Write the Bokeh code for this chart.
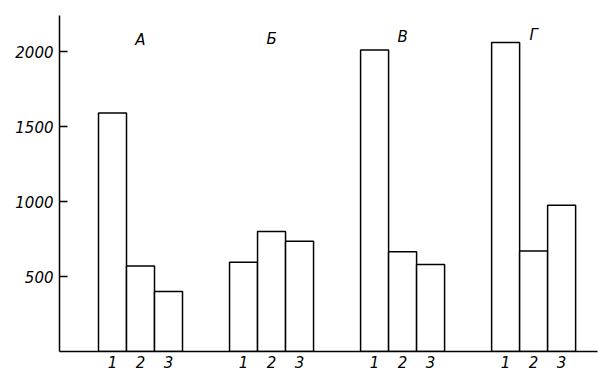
from bokeh.plotting import figure
from bokeh.models import Range1d, FixedTicker, CustomJSTickFormatter, ColumnDataSource
from bokeh.core.properties import value
from bokeh.embed import file_html
from bokeh.resources import INLINE

groups = ["А", "Б", "В", "Г"]
bar_labels = ["1", "2", "3"]
series1 = [1590, 595, 2010, 2060]
series2 = [570, 800, 665, 670]
series3 = [400, 735, 580, 975]
y_ticks = [500, 1000, 1500, 2000]

FONT = "DejaVu Sans"
step = 4.68
bar_w = 1.0

xs, tops = [], []
for g in range(len(groups)):
    for k, s in enumerate([series1, series2, series3]):
        xs.append(g * step + (k - 1) * bar_w)
        tops.append(s[g])

p = figure(width=599, height=374, frame_width=538, frame_height=336,
           min_border_left=59, min_border_right=2, min_border_top=15, min_border_bottom=23,
           x_range=Range1d(-2.893, -2.893 + 538 / 28.0), y_range=Range1d(0, 2240),
           output_backend="svg", toolbar_location=None)
p.outline_line_color = None
p.xgrid.visible = False
p.ygrid.visible = False
p.background_fill_color = "white"
p.border_fill_color = "white"

src = ColumnDataSource(dict(x=xs, top=tops))
p.vbar(x="x", top="top", bottom=0, width=bar_w, source=src,
       fill_color="white", line_color="black", line_width=1.5)

gx = [g * step for g in range(len(groups))]
gy = [2075, 2085, 2095, 2110]
p.text(x=gx, y=gy, text=groups, text_font=value(FONT), text_font_style="italic",
       text_font_size="15px", text_align="center", text_baseline="middle", text_color="black")

p.yaxis.ticker = FixedTicker(ticks=y_ticks)
p.yaxis.major_tick_in = 8
p.yaxis.major_tick_out = 0
p.yaxis.minor_tick_line_color = None
p.yaxis.major_label_standoff = 6
p.yaxis.axis_line_width = 1.5
p.yaxis.major_tick_line_width = 1.5
p.yaxis.major_label_text_font = FONT
p.yaxis.major_label_text_font_style = "italic"
p.yaxis.major_label_text_font_size = "15px"
p.yaxis.major_label_text_color = "black"

p.xaxis.ticker = FixedTicker(ticks=xs)
p.xaxis.formatter = CustomJSTickFormatter(args=dict(labels=bar_labels),
                                          code="return labels[index % labels.length];")
p.xaxis.major_tick_in = 0
p.xaxis.major_tick_out = 0
p.xaxis.minor_tick_line_color = None
p.xaxis.major_label_standoff = 4
p.xaxis.axis_line_width = 1.5
p.xaxis.major_label_text_font = FONT
p.xaxis.major_label_text_font_style = "italic"
p.xaxis.major_label_text_font_size = "15px"
p.xaxis.major_label_text_color = "black"

open("out.html", "w").write(file_html(p, INLINE))
